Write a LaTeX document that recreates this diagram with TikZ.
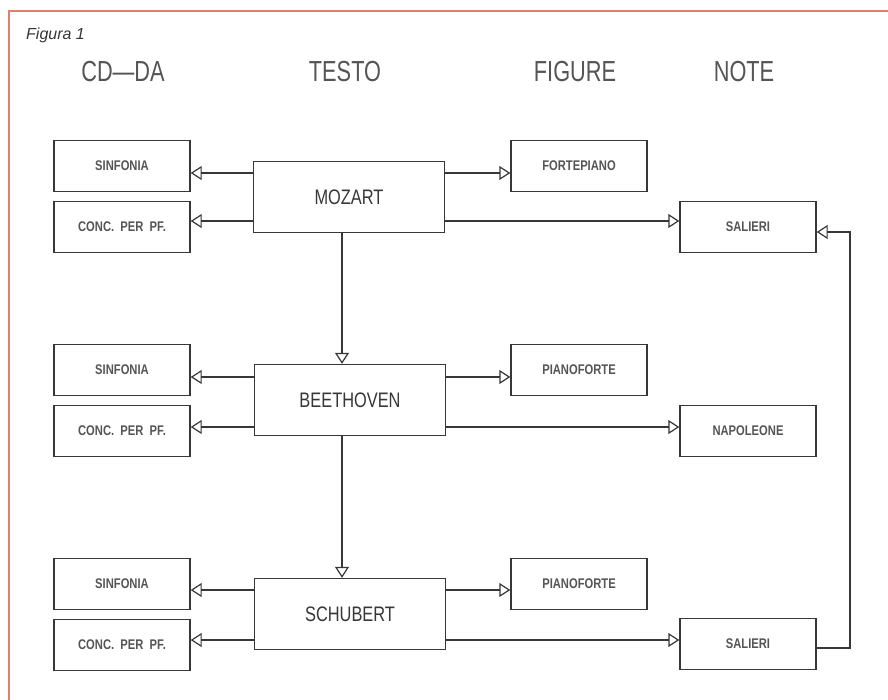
\documentclass[tikz,border=0pt]{standalone}
\usepackage{fontspec}
\usepackage{graphicx}
\setmainfont{Liberation Sans}
\usetikzlibrary{arrows.meta}
\definecolor{frame}{RGB}{222,128,110}
\definecolor{ink}{RGB}{55,55,55}
\newcommand{\cnd}[3]{\scalebox{#1}[1]{\fontsize{#2}{#2}\selectfont #3}}
\newcommand{\smt}[1]{\scalebox{0.8}[1]{\fontsize{14}{14}\selectfont\bfseries #1}}
\tikzset{
  smallbox/.style={draw=ink, line width=1.4pt, minimum width=136pt, minimum height=51pt, inner sep=0pt, text=ink!85},
  mainbox/.style={draw=ink, line width=1.4pt, minimum width=191pt, minimum height=71pt, inner sep=0pt, text=ink},
  head/.style={text=ink!85, inner sep=0pt},
  arr/.style={draw=ink, line width=1.2pt, -{Triangle[open, length=11pt, width=14pt, line width=1.2pt]}}
}
\begin{document}
\begin{tikzpicture}[x=1pt, y=-1pt]
\useasboundingbox (0,0) rectangle (888,699);
\fill[white] (0,0) rectangle (888,699);
\draw[frame, line width=2pt] (9,11) rectangle (900,710);

\node[anchor=west, text=ink, inner sep=0pt] (fig) at (26,35) {\fontsize{16}{16}\selectfont\itshape Figura 1};

\node[head] (h1) at (123,72) {\cnd{0.75}{29}{CD—DA}};
\node[head] (h2) at (345,72) {\cnd{0.75}{29}{TESTO}};
\node[head] (h3) at (575,72) {\cnd{0.75}{29}{FIGURE}};
\node[head] (h4) at (744,72) {\cnd{0.75}{29}{NOTE}};

% row 1
\node[smallbox] (s1) at (122,166) {\smt{SINFONIA}};
\node[smallbox] (c1) at (122,227) {\smt{CONC.\ \ PER\ \ PF.}};
\node[mainbox] (m) at (349,197) {\cnd{0.78}{21}{MOZART}};
\node[smallbox] (f1) at (579,166) {\smt{FORTEPIANO}};
\node[smallbox] (sa1) at (748,227) {\smt{SALIERI}};
% row 2
\node[smallbox] (s2) at (122,370) {\smt{SINFONIA}};
\node[smallbox] (c2) at (122,431) {\smt{CONC.\ \ PER\ \ PF.}};
\node[mainbox] (b) at (350,400) {\cnd{0.78}{21}{BEETHOVEN}};
\node[smallbox] (p2) at (579,370) {\smt{PIANOFORTE}};
\node[smallbox] (n) at (748,431) {\smt{NAPOLEONE}};
% row 3
\node[smallbox] (s3) at (122,584) {\smt{SINFONIA}};
\node[smallbox] (c3) at (122,645) {\smt{CONC.\ \ PER\ \ PF.}};
\node[mainbox] (sc) at (350,614) {\cnd{0.78}{21}{SCHUBERT}};
\node[smallbox] (p3) at (579,584) {\smt{PIANOFORTE}};
\node[smallbox] (sa3) at (748,644) {\smt{SALIERI}};

% guide coordinates
\coordinate (y1a) at (0,173);
\coordinate (y1b) at (0,221);
\coordinate (y2a) at (0,377);
\coordinate (y2b) at (0,427);
\coordinate (y3a) at (0,590);
\coordinate (y3b) at (0,640);
\coordinate (vx) at (342,0);
\coordinate (lx) at (850,0);
\coordinate (lhi) at (0,232);
\coordinate (llo) at (0,648);

% row 1 arrows
\draw[arr] (m.west |- y1a) -- (s1.east |- y1a);
\draw[arr] (m.west |- y1b) -- (c1.east |- y1b);
\draw[arr] (m.east |- y1a) -- (f1.west |- y1a);
\draw[arr] (m.east |- y1b) -- (sa1.west |- y1b);
% row 2 arrows
\draw[arr] (b.west |- y2a) -- (s2.east |- y2a);
\draw[arr] (b.west |- y2b) -- (c2.east |- y2b);
\draw[arr] (b.east |- y2a) -- (p2.west |- y2a);
\draw[arr] (b.east |- y2b) -- (n.west |- y2b);
% row 3 arrows
\draw[arr] (sc.west |- y3a) -- (s3.east |- y3a);
\draw[arr] (sc.west |- y3b) -- (c3.east |- y3b);
\draw[arr] (sc.east |- y3a) -- (p3.west |- y3a);
\draw[arr] (sc.east |- y3b) -- (sa3.west |- y3b);
% vertical
\draw[arr] (m.south -| vx) -- (b.north -| vx);
\draw[arr] (b.south -| vx) -- (sc.north -| vx);
% loop
\draw[arr] (sa3.east |- llo) -- (lx |- llo) -- (lx |- lhi) -- (sa1.east |- lhi);
\end{tikzpicture}
\end{document}
